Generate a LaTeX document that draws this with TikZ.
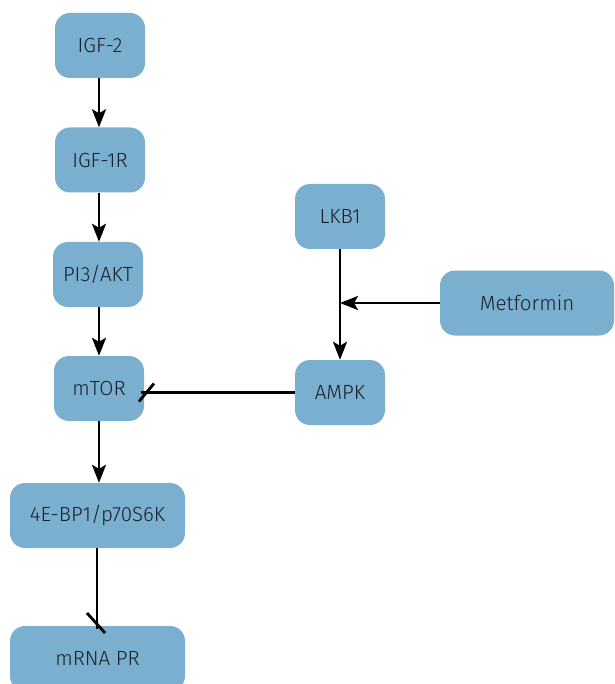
\documentclass[tikz,border=0pt]{standalone}
\usepackage{fontspec}
\setmainfont{Fira Sans}[UprightFont=* Light]
\usetikzlibrary{arrows.meta,calc}
\definecolor{boxblue}{HTML}{7BAFD0}
\definecolor{txtdark}{HTML}{16202A}
\begin{document}
\begin{tikzpicture}[x=1pt,y=-1pt,
  pbox/.style={draw=none,fill=boxblue,rounded corners=15pt,minimum width=90pt,minimum height=65pt,
    text=txtdark,font=\fontsize{20.5}{23}\selectfont,inner sep=0pt},
  widebox/.style={pbox,minimum width=175pt},
  act/.style={line width=2.8pt,-{Stealth[length=18pt,width=14pt,inset=4pt]}},
  inh/.style={line width=2.8pt}]
\clip (0,0) rectangle (614,684);
\fill[white] (0,0) rectangle (614,684);
\node[pbox] (igf2) at (100,45.5) {IGF-2};
\node[pbox] (igf1r) at (100,160) {IGF-1R};
\node[pbox] (pi3) at (98,274.5) {PI3/AKT};
\node[pbox] (mtor) at (99,388.5) {mTOR};
\node[widebox] (ebp) at (97.5,515.5) {4E-BP1/p70S6K};
\node[widebox] (mrna) at (97.5,658.5) {mRNA PR};
\node[pbox] (lkb1) at (340,216.5) {LKB1};
\node[widebox,minimum width=174pt] (met) at (527,303) {Metformin};
\node[pbox] (ampk) at (340,392.5) {AMPK};
\draw[act] (igf2.south -| 99,0) -- (igf1r.north -| 99,0);
\draw[act] (igf1r.south -| 99,0) -- (pi3.north -| 99,0);
\draw[act] (pi3.south -| 99,0) -- (mtor.north -| 99,0);
\draw[act] (mtor.south -| 99,0) -- (ebp.north -| 99,0);
\draw[act] (lkb1.south) -- (ampk.north);
\coordinate (join) at (340,303);
\draw[act] (met.west) -- (join);
\coordinate (mtorhit) at (141,392.5);
\draw[inh] (ampk.west |- mtorhit) -- (mtorhit);
\draw[inh] ($(mtorhit)+(-2,9)$) -- ($(mtorhit)+(13,-9)$);
\coordinate (mrnahit) at (97,629);
\draw[inh] (ebp.south -| mrnahit) -- (mrnahit);
\draw[inh] ($(mrnahit)+(-10,-16)$) -- ($(mrnahit)+(8,4)$);
\end{tikzpicture}
\end{document}
